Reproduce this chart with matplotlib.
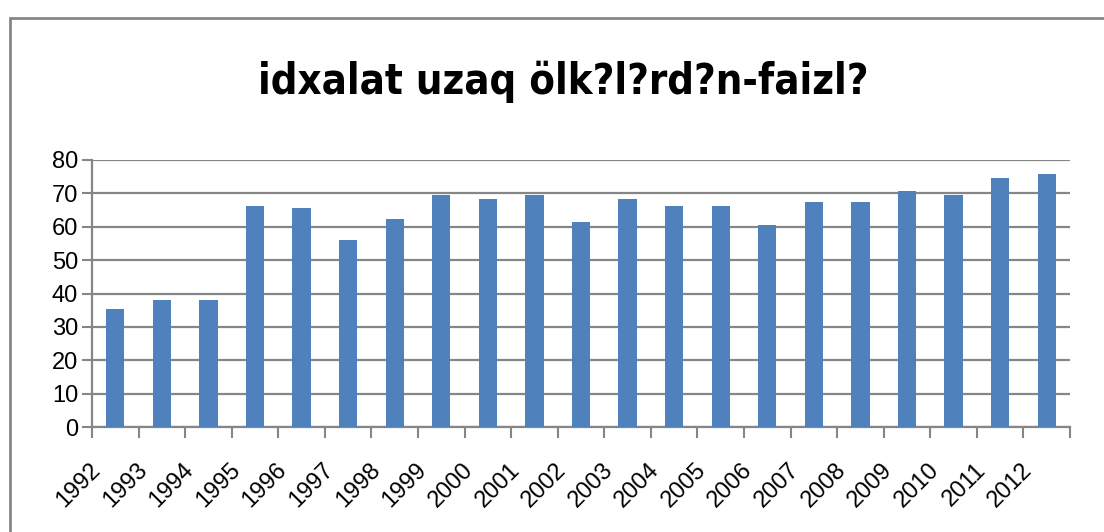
import matplotlib.pyplot as plt
from matplotlib.patches import Rectangle

years = [str(y) for y in range(1992, 2013)]
share = [35.3, 38.1, 38.1, 66.2, 65.6, 56.1, 62.3, 69.5, 68.2, 69.5, 61.3,
         68.2, 66.2, 66.2, 60.5, 67.4, 67.4, 70.7, 69.5, 74.6, 75.8]
y_ticks = [0, 10, 20, 30, 40, 50, 60, 70, 80]
title = "idxalat uzaq ölk?l?rd?n-faizl?"

bar_color = '#4F81BD'
grid_color = '#868686'

fig = plt.figure(figsize=(11.04, 5.32), dpi=100)
ax = fig.add_axes([92 / 1104, 1 - 427 / 532, (1070 - 92) / 1104, (427 - 160) / 532])

# chart frame, runs off the right and bottom edges like the source
fig.patches.append(Rectangle((10 / 1104, -0.1), 1.2, 1 - 17.5 / 532 + 0.1,
                             transform=fig.transFigure, fill=False,
                             edgecolor=grid_color, linewidth=2))

x = list(range(len(years)))
ax.bar(x, share, width=0.39, color=bar_color, zorder=3)

ax.set_xlim(-0.5, len(years) - 0.5)
ax.set_ylim(0, 80)
ax.set_yticks(y_ticks)
ax.set_yticklabels([str(v) for v in y_ticks], fontsize=17, family='Liberation Sans')
ax.yaxis.grid(True, color=grid_color, linewidth=1.6, zorder=0)
ax.tick_params(axis='y', length=7, width=1.5, color=grid_color, pad=3)

# ticks sit on category boundaries, labels under centers
ax.set_xticks([i - 0.5 for i in range(len(years) + 1)])
ax.set_xticklabels([])
ax.tick_params(axis='x', length=8, width=1.5, color=grid_color)
for i, lab in enumerate(years):
    ax.annotate(lab, (i, 0), xytext=(-18, -40), textcoords='offset pixels',
                rotation=45, rotation_mode='anchor', ha='right', va='center',
                fontsize=17, family='Liberation Sans')

for side in ['top', 'right']:
    ax.spines[side].set_visible(False)
for side in ['left', 'bottom']:
    ax.spines[side].set_color(grid_color)
    ax.spines[side].set_linewidth(1.6)
ax.set_axisbelow(True)

fig.text(563 / 1104, 1 - 82 / 532, title, ha='center', va='center',
         fontsize=30, fontweight='bold', fontstretch='condensed',
         family=['DejaVu Sans'])

plt.savefig('out.png', dpi=100)
